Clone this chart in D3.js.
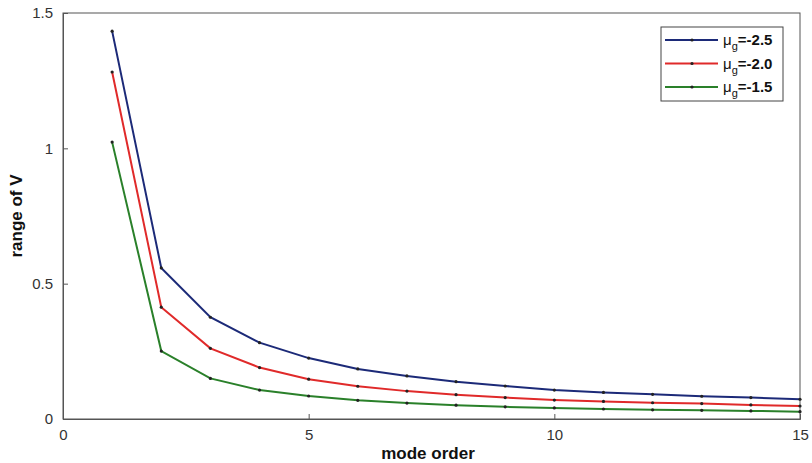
<!DOCTYPE html>
<html>
<head>
<meta charset="utf-8">
<script src="https://cdn.jsdelivr.net/npm/d3@7"></script>
<style>
  body { margin: 0; background: #fff; }
  svg { display: block; font-family: "Liberation Sans", Arial, sans-serif; }
</style>
</head>
<body>
<div id="chart"></div>
<script>
///// DATA /////
const modes = [1, 2, 3, 4, 5, 6, 7, 8, 9, 10, 11, 12, 13, 14, 15];
const seriesNames = ["-2.5", "-2.0", "-1.5"];
const blueValues  = [1.433, 0.558, 0.376, 0.282, 0.225, 0.185, 0.159, 0.138, 0.122, 0.107, 0.098, 0.091, 0.084, 0.079, 0.073];
const redValues   = [1.282, 0.413, 0.261, 0.190, 0.147, 0.121, 0.103, 0.090, 0.079, 0.070, 0.065, 0.060, 0.057, 0.052, 0.048];
const greenValues = [1.023, 0.251, 0.150, 0.107, 0.085, 0.069, 0.059, 0.051, 0.045, 0.041, 0.037, 0.034, 0.032, 0.030, 0.027];
const xTicks = [0, 5, 10, 15];
const yTicks = [0, 0.5, 1, 1.5];
const colors = ["#1c2a78", "#e02a2a", "#2a802a"];

///// CHART /////
const width = 812;
const height = 463;
const margin = { left: 63, right: 12, top: 13, bottom: 44 };

const svg = d3.select("#chart").append("svg")
    .attr("width", width)
    .attr("height", height);

const x = d3.scaleLinear().domain([0, 15]).range([margin.left, width - margin.right]);
const y = d3.scaleLinear().domain([0, 1.5]).range([height - margin.bottom, margin.top]);

const series = [blueValues, redValues, greenValues].map((vals, i) => ({
    name: seriesNames[i],
    color: colors[i],
    points: modes.map((m, j) => ({ x: m, y: vals[j] }))
}));

// box
svg.append("rect")
    .attr("x", x(0))
    .attr("y", y(1.5))
    .attr("width", x(15) - x(0))
    .attr("height", y(0) - y(1.5))
    .attr("fill", "none")
    .attr("stroke", "#555")
    .attr("stroke-width", 1);

// axes, ticks pointing inward like matlab
const xAxis = svg.append("g")
    .attr("transform", `translate(0,${y(0)})`)
    .call(d3.axisBottom(x).tickValues(xTicks).tickSize(-5).tickPadding(10).tickFormat(d3.format("d")));
const yAxis = svg.append("g")
    .attr("transform", `translate(${x(0)},0)`)
    .call(d3.axisLeft(y).tickValues(yTicks).tickSize(-5).tickPadding(10).tickFormat(d => d));

[xAxis, yAxis].forEach(g => {
    g.select(".domain").attr("stroke", "#555");
    g.selectAll(".tick line").attr("stroke", "#555");
    g.selectAll(".tick text")
        .attr("fill", "#333")
        .style("font-size", "15px")
        .style("font-family", "'Liberation Sans', Arial, sans-serif");
});

// lines
const line = d3.line().x(d => x(d.x)).y(d => y(d.y));

const groups = svg.append("g")
    .selectAll("g")
    .data(series)
    .join("g");

groups.append("path")
    .attr("d", d => line(d.points))
    .attr("fill", "none")
    .attr("stroke", d => d.color)
    .attr("stroke-width", 2);

groups.selectAll("circle")
    .data(d => d.points.map(p => ({ ...p, color: d.color })))
    .join("circle")
    .attr("cx", d => x(d.x))
    .attr("cy", d => y(d.y))
    .attr("r", 1.6)
    .attr("fill", "#222");

// axis labels
svg.append("text")
    .attr("x", 428)
    .attr("y", 459)
    .attr("text-anchor", "middle")
    .style("font-size", "17px")
    .style("font-weight", "bold")
    .attr("fill", "#111")
    .text("mode order");

svg.append("text")
    .attr("transform", "translate(22,216) rotate(-90)")
    .attr("text-anchor", "middle")
    .style("font-size", "17px")
    .style("font-weight", "bold")
    .attr("fill", "#111")
    .text("range of V");

// legend
const legend = svg.append("g").attr("transform", "translate(661,27)");
legend.append("rect")
    .attr("width", 122)
    .attr("height", 74)
    .attr("fill", "#fff")
    .attr("stroke", "#444")
    .attr("stroke-width", 1);

const item = legend.selectAll("g")
    .data(series)
    .join("g")
    .attr("transform", (d, i) => `translate(0,${13 + i * 23.5})`);

item.append("line")
    .attr("x1", 4).attr("x2", 57)
    .attr("stroke", d => d.color)
    .attr("stroke-width", 2);
item.append("circle")
    .attr("cx", 31).attr("r", 1.6).attr("fill", "#222");

const label = item.append("text")
    .attr("x", 62)
    .attr("y", 5)
    .style("font-size", "15px")
    .attr("fill", "#111");
label.append("tspan").text("μ");
label.append("tspan").attr("dy", 5).style("font-size", "11px").text("g");
label.append("tspan").attr("dy", -5).style("font-weight", "bold").text(d => "=" + d.name);
</script>
</body>
</html>
